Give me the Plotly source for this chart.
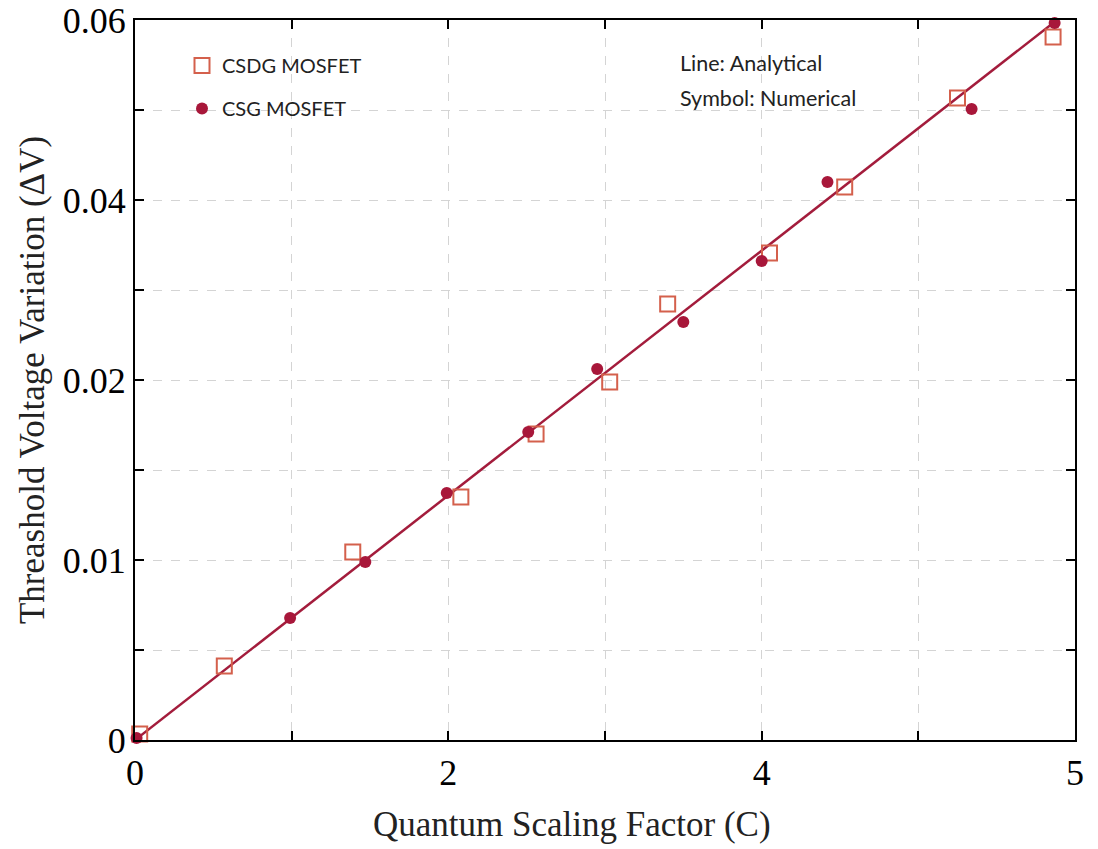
import plotly.graph_objects as go

# Quantum scaling factor (axis grid units) and threshold voltage variation
csdg_x = [0.03, 0.57, 1.39, 2.08, 2.56, 3.03, 3.40, 4.05, 4.53, 5.25, 5.86]
csdg_y = [0.00033, 0.00411, 0.01044, 0.0135, 0.0170, 0.01989, 0.02422, 0.02706, 0.03072, 0.03567, 0.03906]

csg_x = [0.01, 0.99, 1.47, 1.99, 2.51, 2.95, 3.50, 4.00, 4.42, 5.34, 5.87]
csg_y = [0.00011, 0.00678, 0.00989, 0.01372, 0.01711, 0.02061, 0.02322, 0.02661, 0.0310, 0.03506, 0.03983]

line_x = [0.0, 5.885]
line_y = [0.0, 0.04]

x_tickvals = [0, 1, 2, 3, 4, 5, 6]
x_ticktext = ["0", "", "2", "", "4", "", "5"]
y_tickvals = [0, 0.005, 0.01, 0.015, 0.02, 0.025, 0.03, 0.035, 0.04]
y_ticktext = ["0", "", "0.01", "", "0.02", "", "0.04", "", "0.06"]

LINE_COLOR = "#a31c3c"
SQ_COLOR = "#d4604c"
DOT_COLOR = "#a8173a"
SERIF = "Liberation Serif, Times New Roman, serif"
SANS = "Lato, Open Sans, sans-serif"

fig = go.Figure()
fig.add_trace(go.Scatter(
    x=line_x, y=line_y, mode="lines", showlegend=False,
    line=dict(color=LINE_COLOR, width=2.5), cliponaxis=False))
fig.add_trace(go.Scatter(
    x=csdg_x, y=csdg_y, mode="markers", name="CSDG MOSFET", legendgroup="a",
    marker=dict(symbol="square-open", size=15, color=SQ_COLOR, line=dict(width=2, color=SQ_COLOR)),
    cliponaxis=False))
fig.add_trace(go.Scatter(
    x=csg_x, y=csg_y, mode="markers", name="CSG MOSFET", legendgroup="b",
    marker=dict(symbol="circle", size=12, color=DOT_COLOR),
    cliponaxis=False))

axis_common = dict(
    showline=True, linecolor="black", linewidth=2, mirror="ticks",
    ticks="inside", ticklen=9, tickwidth=2, tickcolor="black",
    showgrid=True, gridcolor="#d4d4d4", griddash="dash", gridwidth=1,
    zeroline=False, automargin=False,
    tickfont=dict(family=SERIF, size=36, color="black"),
)

fig.update_xaxes(
    range=[0, 6], tickmode="array", tickvals=x_tickvals, ticktext=x_ticktext,
    **axis_common)
fig.update_yaxes(
    range=[0, 0.04], tickmode="array", tickvals=y_tickvals, ticktext=y_ticktext,
    title=dict(text="Threashold Voltage Variation (ΔV)", standoff=8,
               font=dict(family=SERIF, size=35, color="#222")),
    **axis_common)

# x-axis title (placed slightly left of centre, as in the original)
fig.add_annotation(x=0.465, y=-0.088, xref="paper", yref="paper",
                   text="Quantum Scaling Factor (C)", showarrow=False,
                   xanchor="center", yanchor="top",
                   font=dict(family=SERIF, size=35, color="#222"))

fig.add_annotation(x=0.578, y=0.94, xref="paper", yref="paper", text="Line: Analytical",
                   showarrow=False, xanchor="left", yanchor="middle",
                   font=dict(family=SANS, size=21.5, color="#222"))
fig.add_annotation(x=0.578, y=0.891, xref="paper", yref="paper", text="Symbol: Numerical",
                   showarrow=False, xanchor="left", yanchor="middle",
                   font=dict(family=SANS, size=21.5, color="#222"))

fig.update_layout(
    width=1098, height=849,
    margin=dict(l=135, r=23, t=20, b=109),
    plot_bgcolor="white", paper_bgcolor="white",
    legend=dict(x=0.05, y=0.964, xanchor="left", yanchor="top",
                bgcolor="rgba(0,0,0,0)", tracegroupgap=14, traceorder="grouped",
                font=dict(family=SANS, size=20, color="#222")),
)

fig.write_html("out.html", config={"displayModeBar": False},
               post_script="document.body.style.margin='0px';")
